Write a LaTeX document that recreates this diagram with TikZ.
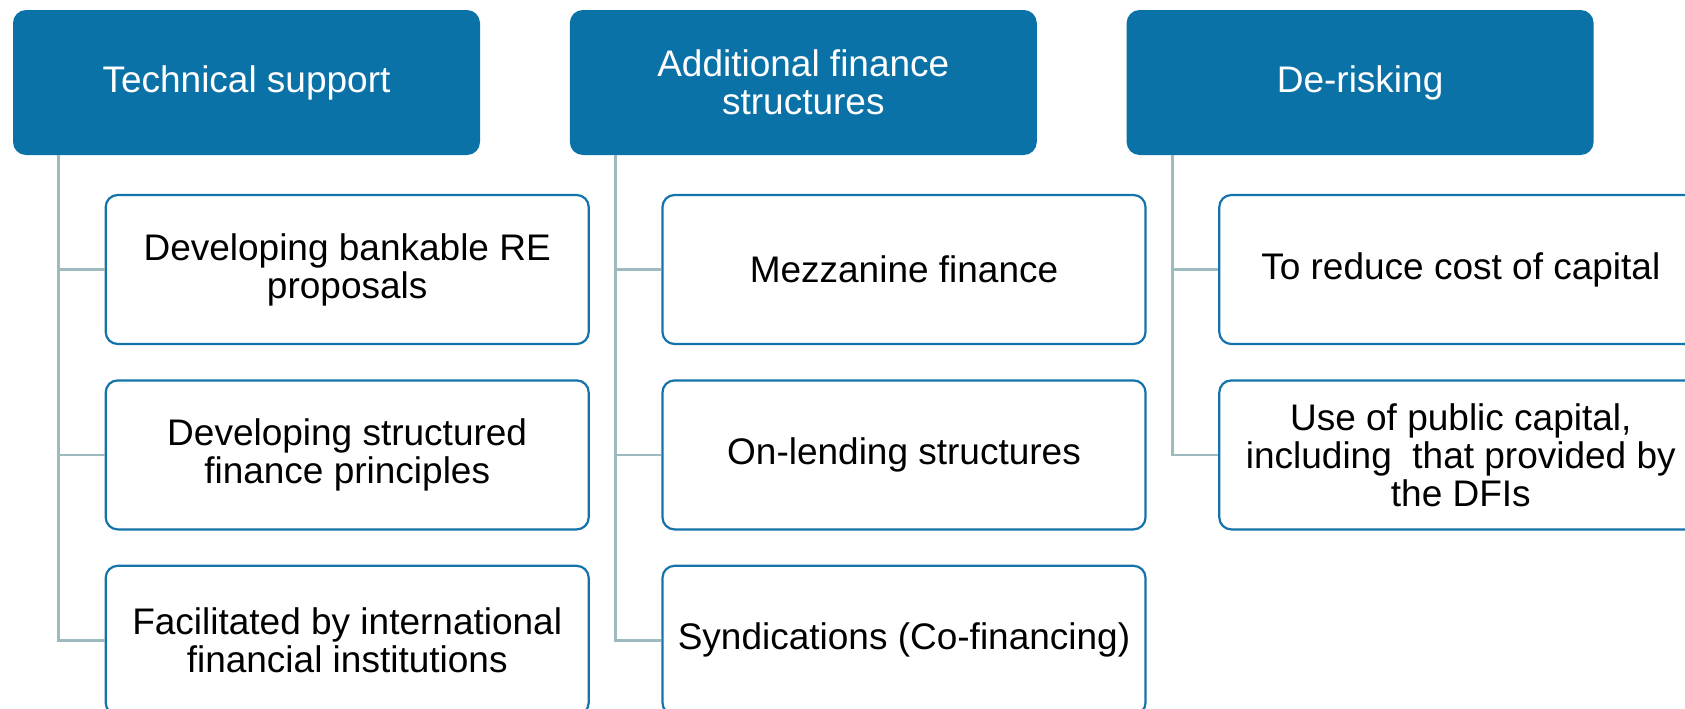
\documentclass[tikz,border=0pt]{standalone}
\usepackage{fontspec}
\setmainfont{Liberation Sans}
\usetikzlibrary{positioning}
\definecolor{headblue}{HTML}{0B72A7}
\definecolor{lineblue}{HTML}{1473AA}
\definecolor{branchgray}{HTML}{9DBBBF}
\tikzset{
  head/.style={rectangle, rounded corners=6.5pt, fill=headblue, text=white,
    minimum width=233.5pt, minimum height=72.5pt, align=center,
    font=\fontsize{18.5}{19}\selectfont},
  leaf/.style={rectangle, rounded corners=6pt, draw=lineblue, line width=1.1pt,
    fill=white, minimum width=241.5pt, minimum height=74.5pt, align=center,
    font=\fontsize{18.5}{19}\selectfont},
  branch/.style={draw=branchgray, line width=1.3pt}
}

\begin{document}
\begin{tikzpicture}[x=0.5pt, y=-0.5pt]
  \useasboundingbox (0,0) rectangle (1685,708);

  \node [head] (h1) at (246.5, 82.5) {Technical support};
  \node [head, right=44.5pt of h1] (h2) {Additional finance\\structures};
  \node [head, right=44.5pt of h2] (h3) {De-risking};

  \node [leaf, anchor=north west] (t1) at ([xshift=46pt, yshift=-19.25pt] h1.south west) {Developing bankable RE\\proposals};
  \node [leaf, below=17.1pt of t1] (t2) {Developing structured\\finance principles};
  \node [leaf, below=17.1pt of t2] (t3) {Facilitated by international\\financial institutions};

  \node [leaf, anchor=north west] (f1) at ([xshift=46pt, yshift=-19.25pt] h2.south west) {Mezzanine finance};
  \node [leaf, below=17.1pt of f1] (f2) {On-lending structures};
  \node [leaf, below=17.1pt of f2] (f3) {Syndications (Co-financing)};

  \node [leaf, anchor=north west] (r1) at ([xshift=46pt, yshift=-19.25pt] h3.south west) {To reduce cost of capital};
  \node [leaf, below=17.1pt of r1] (r2) {Use of public capital,\\including\ \ that provided by\\the DFIs};

  \foreach \c in {t1, t2, t3}
    \draw [branch] ([xshift=23pt] h1.south west) |- (\c.west);
  \foreach \c in {f1, f2, f3}
    \draw [branch] ([xshift=23pt] h2.south west) |- (\c.west);
  \foreach \c in {r1, r2}
    \draw [branch] ([xshift=23pt] h3.south west) |- (\c.west);
\end{tikzpicture}
\end{document}
